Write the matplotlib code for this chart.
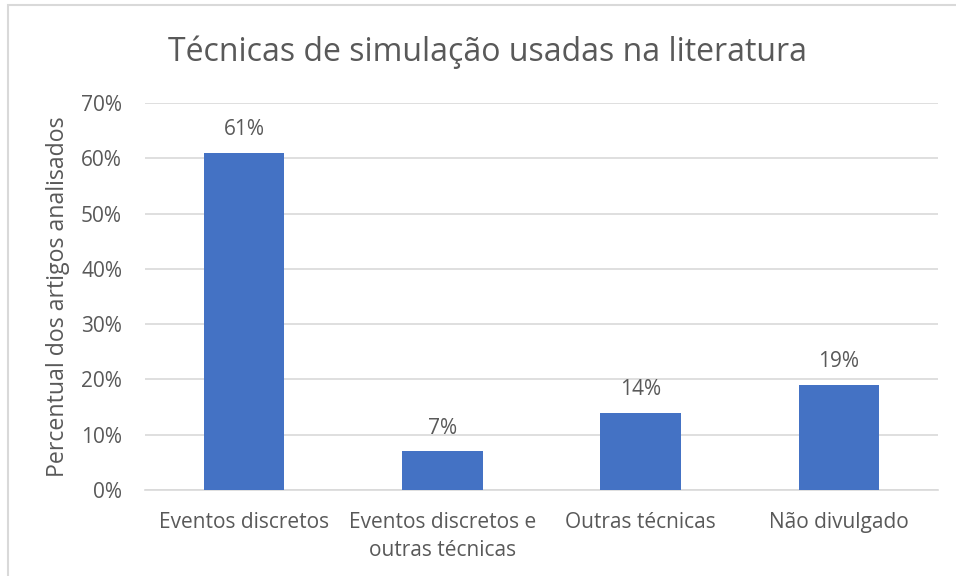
import matplotlib.pyplot as plt
from matplotlib.patches import Rectangle
from matplotlib.ticker import FuncFormatter

plt.rcParams['font.family'] = ['Open Sans', 'DejaVu Sans']

categorias = ['Eventos discretos', 'Eventos discretos e\noutras técnicas', 'Outras técnicas', 'Não divulgado']
percentuais = [61, 7, 14, 19]
rotulos = ['61%', '7%', '14%', '19%']

azul = '#4472C4'
cinza = '#595959'
grade = '#D9D9D9'

fig = plt.figure(figsize=(9.56, 5.76), dpi=100)
ax = fig.add_axes([145/956, 1 - 490/576, (938 - 145)/956, (490 - 103)/576])

# moldura do gráfico (estilo Excel)
fig.patches.append(Rectangle((8/956, -0.1), 1.2, 1 - 5/576 + 0.1, transform=fig.transFigure,
                             fill=False, edgecolor=grade, linewidth=1.5))

x = range(len(categorias))
ax.bar(x, percentuais, width=0.405, color=azul, zorder=3)
for xi, v, r in zip(x, percentuais, rotulos):
    ax.text(xi, v + 3.2, r, ha='center', va='baseline', fontsize=15, color=cinza)

ax.set_xlim(-0.5, len(categorias) - 0.5)
ax.set_ylim(0, 70)
ax.set_yticks(range(0, 71, 10))
ax.yaxis.set_major_formatter(FuncFormatter(lambda v, p: f'{int(v)}%'))
ax.set_xticks(list(x))
ax.set_xticklabels(categorias, linespacing=1.4)
ax.tick_params(axis='both', length=0, labelsize=15, colors=cinza)
ax.tick_params(axis='x', pad=16)
ax.tick_params(axis='y', pad=16.5)
ax.grid(axis='y', color=grade, linewidth=1.2, zorder=0)
for s in ['top', 'right', 'left']:
    ax.spines[s].set_visible(False)
ax.spines['bottom'].set_color(grade)
ax.spines['bottom'].set_linewidth(1.2)

ax.set_ylabel('Percentual dos artigos analisados', fontsize=16.7, color=cinza, labelpad=8)
fig.text(487/956, 1 - 61/576, 'Técnicas de simulação usadas na literatura', ha='center', va='baseline',
         fontsize=23, color=cinza)

fig.savefig('out.png', dpi=100)
